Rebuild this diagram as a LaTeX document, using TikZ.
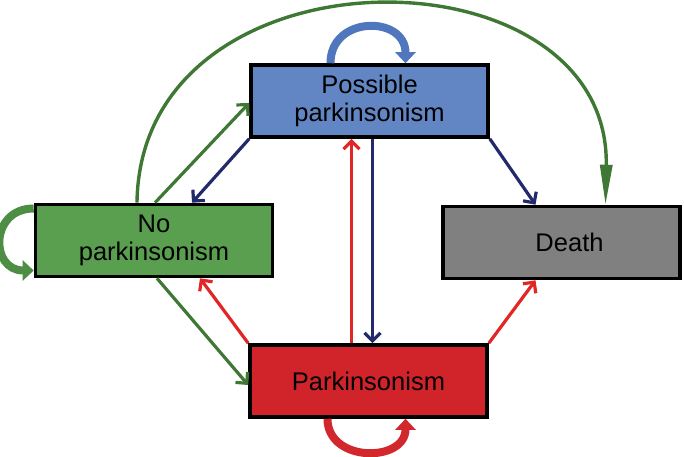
\documentclass[tikz,border=0pt]{standalone}
\usepackage{fontspec}
\setmainfont{Liberation Sans}
\usetikzlibrary{arrows.meta,positioning,calc}

\definecolor{nogreen}{RGB}{90,158,80}
\definecolor{posblue}{RGB}{98,134,196}
\definecolor{parkred}{RGB}{208,36,42}
\definecolor{deathgray}{RGB}{128,128,128}
\definecolor{argreen}{RGB}{62,120,52}
\definecolor{arnavy}{RGB}{34,42,108}
\definecolor{arred}{RGB}{226,38,38}
\definecolor{loopgreen}{RGB}{78,142,68}
\definecolor{loopblue}{RGB}{80,118,190}
\definecolor{loopred}{RGB}{210,40,45}

\begin{document}
\begin{tikzpicture}[x=1pt, y=1pt,
  box/.style={draw=black, line width=3.6pt, rectangle,
    minimum width=237pt, minimum height=72pt, align=center,
    font=\fontsize{25.5}{28}\selectfont},
  ar/.style={-{Straight Barb[length=8pt,width=16pt]}, line width=3.2pt},
  lp/.style={line width=8pt, -{Triangle[length=11pt,width=20pt]}},
]
\useasboundingbox (0,0) rectangle (684,456);

%==== Zustaende ====
\node[box, fill=posblue]   (poss)  at (369.5,355) {Possible\\parkinsonism};
\node[box, fill=nogreen]   (nopk)  at (154,215.5) {No\\parkinsonism};
\node[box, fill=parkred]   (park)  at (368.5,75)  {Parkinsonism};
\node[box, fill=deathgray] (death) at (561.5,213.5) {\hspace*{16pt}Death};

%==== Uebergaenge ====
\draw[ar, argreen] ([xshift=1]nopk.north) -- ([yshift=-2]poss.west);
\draw[ar, arnavy]  (poss.south west) -- ([xshift=38]nopk.north);
\draw[ar, arnavy]  (poss.south east) -- ([xshift=-26]death.north);
\draw[ar, arnavy]  ([xshift=3]poss.south) -- ([xshift=4]park.north);
\draw[ar, arred]   ([xshift=-17]park.north) -- ([xshift=-18]poss.south);
\draw[ar, arred]   (park.north west) -- ([xshift=46]nopk.south);
\draw[ar, argreen] ([xshift=3]nopk.south) -- ([yshift=-4]park.west);
\draw[ar, arred]   (park.north east) -- ([xshift=-26]death.south);

% grosser Bogen nach Death
\draw[argreen, line width=3.4pt, -{Triangle[length=40pt,width=12pt]}]
  ([xshift=-17]nopk.north) .. controls +(3,262) and +(5,262) .. ([xshift=44]death.north);

%==== Schleifen ====
\draw[lp, loopgreen] ([yshift=32]nopk.west) to[out=180,in=180,distance=44] ([yshift=-30]nopk.west);
\draw[lp, loopblue]  ([xshift=-39]poss.north) to[out=90,in=90,distance=48] ([xshift=36]poss.north);
\draw[lp, loopred]   ([xshift=-41]park.south) to[out=-90,in=-90,distance=44] ([xshift=37]park.south);

\end{tikzpicture}
\end{document}
